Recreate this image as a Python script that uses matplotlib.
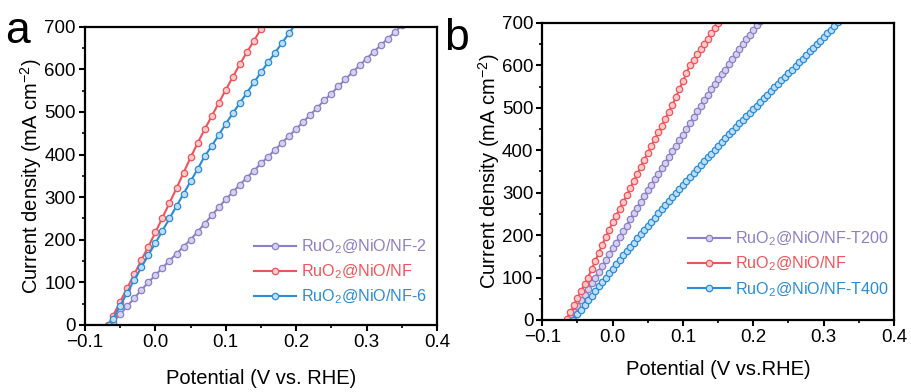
import matplotlib
matplotlib.use('Agg')
import matplotlib.pyplot as plt
from matplotlib.ticker import MultipleLocator, FuncFormatter

plt.rcParams['font.family'] = ['Liberation Sans', 'DejaVu Sans']
plt.rcParams['mathtext.fontset'] = 'custom'
plt.rcParams['mathtext.rm'] = 'Liberation Sans'
plt.rcParams['mathtext.it'] = 'Liberation Sans:italic'
plt.rcParams['mathtext.default'] = 'regular'

# ---- panel a : potential (V vs RHE) / current density (mA cm-2) ----
pot_a_nf2 = [-0.065, -0.06, -0.05, -0.04, -0.03, -0.02, -0.01, 0.00, 0.01, 0.02,
             0.03, 0.04, 0.05, 0.06, 0.07, 0.08, 0.09, 0.10, 0.11, 0.12,
             0.13, 0.14, 0.15, 0.16, 0.17, 0.18, 0.19, 0.20, 0.21, 0.22,
             0.23, 0.24, 0.25, 0.26, 0.27, 0.28, 0.29, 0.30, 0.31, 0.32,
             0.33, 0.34, 0.35]
j_a_nf2 = [0, 8, 25, 44, 63, 82, 100, 117, 134, 151,
           167, 184, 200, 219, 238, 257, 276, 295, 312, 329,
           346, 362, 379, 395, 411, 428, 444, 460, 477, 493,
           510, 527, 543, 560, 577, 593, 609, 625, 641, 656,
           672, 687, 703]

pot_a_nf = [-0.067, -0.06, -0.05, -0.04, -0.03, -0.02, -0.01, 0.00, 0.01, 0.02,
            0.03, 0.04, 0.05, 0.06, 0.07, 0.08, 0.09, 0.10, 0.11, 0.12,
            0.13, 0.14, 0.15, 0.16]
j_a_nf = [0, 22, 55, 87, 119, 152, 184, 217, 252, 286,
          321, 357, 393, 427, 459, 490, 521, 552, 582, 612,
          640, 667, 695, 722]

pot_a_nf6 = [-0.066, -0.06, -0.05, -0.04, -0.03, -0.02, -0.01, 0.00, 0.01, 0.02,
             0.03, 0.04, 0.05, 0.06, 0.07, 0.08, 0.09, 0.10, 0.11, 0.12,
             0.13, 0.14, 0.15, 0.16, 0.17, 0.18, 0.19, 0.20]
j_a_nf6 = [0, 15, 45, 76, 106, 135, 164, 192, 221, 250,
           279, 308, 337, 366, 396, 420, 446, 472, 497, 521,
           545, 569, 593, 616, 639, 662, 685, 708]

# ---- panel b ----
pot_b_t200 = [-0.060, -0.055, -0.050, -0.045, -0.040, -0.035, -0.030, -0.025, -0.020, -0.015,
              -0.010, -0.005, 0.000, 0.005, 0.010, 0.015, 0.020, 0.025, 0.030, 0.035,
              0.040, 0.045, 0.050, 0.055, 0.060, 0.065, 0.070, 0.075, 0.080, 0.085,
              0.090, 0.095, 0.100, 0.105, 0.110, 0.115, 0.120, 0.125, 0.130, 0.135,
              0.140, 0.145, 0.150, 0.155, 0.160, 0.165, 0.170, 0.175, 0.180, 0.185,
              0.190, 0.195, 0.200, 0.205, 0.210]
j_b_t200 = [6, 20, 34, 47, 60, 73, 86, 100, 114, 127,
            141, 155, 169, 182, 196, 209, 222, 237, 251, 265,
            279, 293, 306, 319, 332, 345, 358, 371, 384, 397,
            410, 423, 436, 450, 464, 478, 492, 505, 518, 530,
            543, 555, 567, 579, 590, 602, 614, 626, 638, 650,
            661, 672, 683, 694, 705]

pot_b_nf = [-0.065, -0.060, -0.055, -0.050, -0.045, -0.040, -0.035, -0.030, -0.025, -0.020,
            -0.015, -0.010, -0.005, 0.000, 0.005, 0.010, 0.015, 0.020, 0.025, 0.030,
            0.035, 0.040, 0.045, 0.050, 0.055, 0.060, 0.065, 0.070, 0.075, 0.080,
            0.085, 0.090, 0.095, 0.100, 0.105, 0.110, 0.115, 0.120, 0.125, 0.130,
            0.135, 0.140, 0.145, 0.150]
j_b_nf = [2, 18, 35, 52, 68, 84, 100, 119, 138, 157,
          176, 195, 213, 230, 246, 262, 278, 294, 310, 327,
          344, 361, 378, 394, 410, 426, 442, 458, 474, 490,
          507, 525, 544, 563, 582, 600, 613, 626, 638, 650,
          662, 675, 688, 700]

pot_b_t400 = [-0.057, -0.050, -0.045, -0.040, -0.035, -0.030, -0.025, -0.020, -0.015, -0.010,
              -0.005, 0.000, 0.005, 0.010, 0.015, 0.020, 0.025, 0.030, 0.035, 0.040,
              0.045, 0.050, 0.055, 0.060, 0.065, 0.070, 0.075, 0.080, 0.085, 0.090,
              0.095, 0.100, 0.105, 0.110, 0.115, 0.120, 0.125, 0.130, 0.135, 0.140,
              0.145, 0.150, 0.155, 0.160, 0.165, 0.170, 0.175, 0.180, 0.185, 0.190,
              0.195, 0.200, 0.205, 0.210, 0.215, 0.220, 0.225, 0.230, 0.235, 0.240,
              0.245, 0.250, 0.255, 0.260, 0.265, 0.270, 0.275, 0.280, 0.285, 0.290,
              0.295, 0.300, 0.305, 0.310, 0.315, 0.320]
j_b_t400 = [0, 13, 24, 35, 46, 57, 68, 79, 89, 99,
            110, 120, 131, 141, 152, 162, 172, 182, 192, 202,
            212, 222, 232, 241, 251, 261, 270, 280, 289, 299,
            308, 318, 327, 337, 346, 356, 365, 374, 383, 392,
            401, 410, 419, 428, 437, 446, 454, 463, 471, 480,
            488, 497, 505, 514, 522, 531, 539, 548, 556, 565,
            573, 582, 590, 599, 607, 616, 624, 633, 641, 650,
            658, 667, 675, 684, 692, 701]

purple = '#8B80C4'
red = '#F0545A'
blue = '#2A8CD6'
light = {purple: '#D6D1EE', red: '#FBC9CA', blue: '#BFDDF5'}

fig = plt.figure(figsize=(9.11, 3.92), dpi=100)
ax_a = fig.add_axes([0.0933, 0.171, 0.3864, 0.761])
ax_b = fig.add_axes([0.5953, 0.1837, 0.386, 0.758])


def draw(ax, x, y, c, label):
    ax.plot(x, y, '-', color=c, lw=1.5, marker='o', ms=4.6,
            mfc=light[c], mec=c, mew=0.9, label=label)


draw(ax_a, pot_a_nf2, j_a_nf2, purple, 'RuO$_2$@NiO/NF-2')
draw(ax_a, pot_a_nf, j_a_nf, red, 'RuO$_2$@NiO/NF')
draw(ax_a, pot_a_nf6, j_a_nf6, blue, 'RuO$_2$@NiO/NF-6')

draw(ax_b, pot_b_t200, j_b_t200, purple, 'RuO$_2$@NiO/NF-T200')
draw(ax_b, pot_b_nf, j_b_nf, red, 'RuO$_2$@NiO/NF')
draw(ax_b, pot_b_t400, j_b_t400, blue, 'RuO$_2$@NiO/NF-T400')

xfmt = FuncFormatter(lambda v, p: ('%.1f' % v).replace('-', '\u2212'))

for ax, xlab, lpad in [(ax_a, 'Potential (V vs. RHE)', 13), (ax_b, 'Potential (V vs.RHE)', 10)]:
    ax.set_xlim(-0.1, 0.4)
    ax.set_ylim(0, 700)
    ax.xaxis.set_major_locator(MultipleLocator(0.1))
    ax.xaxis.set_minor_locator(MultipleLocator(0.05))
    ax.yaxis.set_major_locator(MultipleLocator(100))
    ax.yaxis.set_minor_locator(MultipleLocator(50))
    ax.xaxis.set_major_formatter(xfmt)
    ax.tick_params(which='major', direction='out', length=4.5, width=1.5,
                   labelsize=13.5, pad=2)
    ax.tick_params(which='minor', direction='out', length=2.5, width=1.2)
    for s in ax.spines.values():
        s.set_linewidth(1.6)
    ax.set_xlabel(xlab, fontsize=14.5, labelpad=lpad)
    ax.set_ylabel('Current density (mA cm$^{-2}$)', fontsize=14.5, labelpad=0)
    ax.legend(loc='lower right', frameon=False, fontsize=11.6,
              labelcolor='linecolor', handlelength=2.6, handletextpad=0.3,
              labelspacing=0.42, borderpad=0, borderaxespad=0,
              bbox_to_anchor=(0.97 if ax is ax_a else 0.985, 0.062 if ax is ax_a else 0.072))

fig.text(0.006, 0.89, 'a', fontsize=32)
fig.text(0.488, 0.873, 'b', fontsize=32)

fig.savefig('out.png', dpi=100)
